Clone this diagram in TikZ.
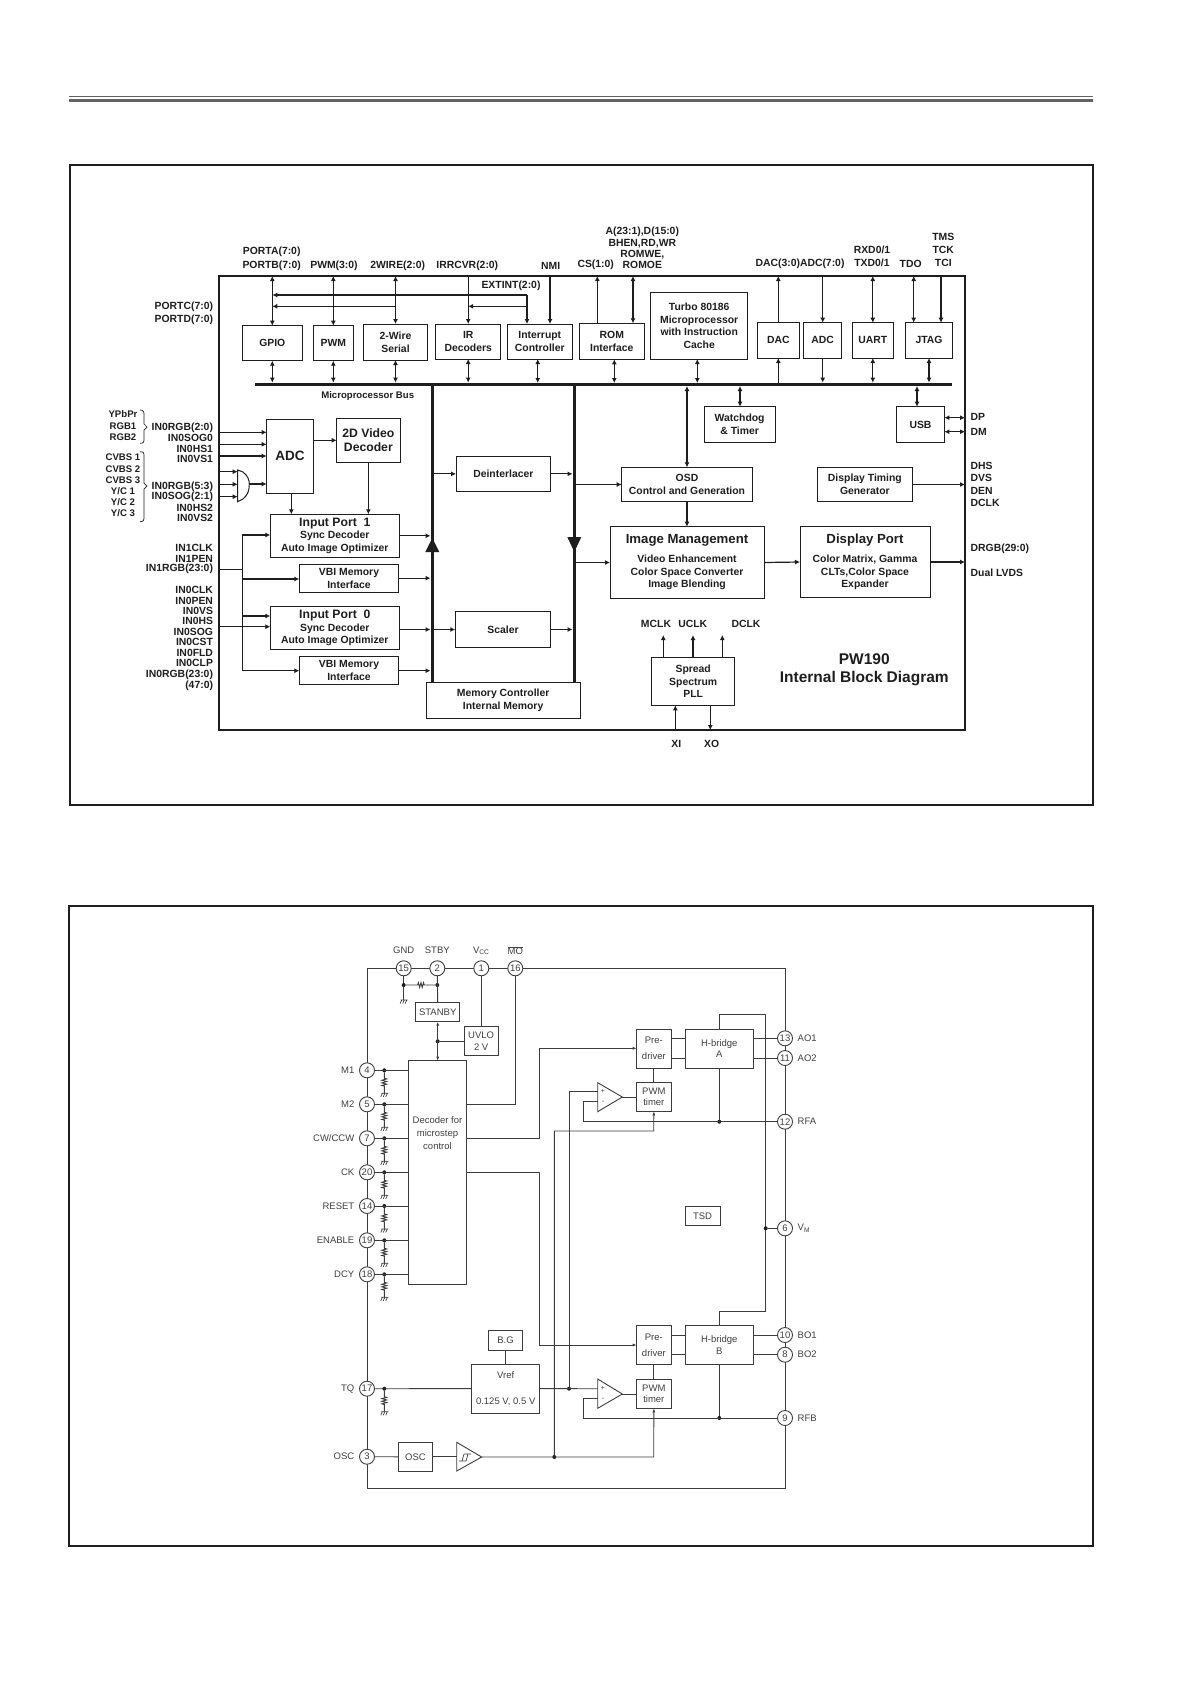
\documentclass[tikz,border=0pt]{standalone}
\usepackage{fontspec}
\setmainfont{Liberation Sans}
\usetikzlibrary{arrows.meta,decorations.pathmorphing}
\definecolor{ink}{HTML}{1E1E1E}
\definecolor{gry}{HTML}{3C3C3C}
\definecolor{txg}{HTML}{404040}
\tikzset{
  tbl/.style={font={\fontsize{10.4}{12.7}\selectfont\bfseries},text=ink,inner sep=0pt,outer sep=0pt},
  lab/.style={tbl},
  blk/.style={draw=ink,line width=1pt,tbl,align=center,outer sep=0pt},
  busbar/.style={fill=ink,draw=none,inner sep=0pt,outer sep=0pt},
  wire/.style={draw=ink,line width=1.2pt},
  arr/.style={wire,-{Latex[length=5pt,width=5pt]}},
  dbl/.style={wire,{Latex[length=5pt,width=5pt]}-{Latex[length=5pt,width=5pt]}},
  tnr/.style={font={\fontsize{9.5}{11.6}\selectfont},text=txg,inner sep=0pt,outer sep=0pt},
  dbox/.style={draw=gry,line width=.9pt,tnr,align=center},
  dw/.style={draw=gry,line width=.9pt},
  darr/.style={dw,-{Latex[length=4pt,width=3pt]}},
  ddbl/.style={dw,{Latex[length=4pt,width=3pt]}-{Latex[length=4pt,width=3pt]}},
  dot/.style={circle,fill=ink,inner sep=0pt,outer sep=0pt,minimum size=4pt},
  pinc/.style={circle,draw=gry,line width=.9pt,fill=white,tnr,minimum size=15pt},
  resist/.style={dw,decorate,decoration={zigzag,amplitude=2.4pt,segment length=2.6pt,pre length=6pt,post length=7pt}},
  resisth/.style={dw,decorate,decoration={zigzag,amplitude=2.4pt,segment length=2.6pt,pre length=12pt,post length=10pt}},
}
\newcommand{\blk}[7][]{\pgfmathsetmacro\bw{#5-#3}\pgfmathsetmacro\bh{#6-#4}%
  \node[blk,#1,minimum width=\bw pt,minimum height=\bh pt] (#2) at ({(#3+#5)/2},{(#4+#6)/2}) {#7};}
\newcommand{\dbk}[7][]{\pgfmathsetmacro\bw{#5-#3}\pgfmathsetmacro\bh{#6-#4}%
  \node[dbox,#1,minimum width=\bw pt,minimum height=\bh pt] (#2) at ({(#3+#5)/2},{(#4+#6)/2}) {#7};}
\newcommand{\gndsym}[1]{\draw[dw,line width=.7pt] ([xshift=-3pt]#1) -- ([xshift=4pt]#1)
  ([xshift=-2pt]#1) -- ++(-1.5,3.5) ([xshift=0.5pt]#1) -- ++(-1.5,3.5) ([xshift=3pt]#1) -- ++(-1.5,3.5);}
\newcommand{\fs}[1]{\fontsize{#1}{#1}\selectfont}
\begin{document}
\begin{tikzpicture}[x=1pt,y=-1pt]
\useasboundingbox (0,0) rectangle (1191,1684);
\fill[white] (0,0) rectangle (1191,1684);
% header rules
\draw[line width=1pt,draw=gry!80] (69,96.3) -- (1093,96.3);
\draw[line width=3pt,draw=gry!80] (69,100.3) -- (1093,100.3);
% frames
\node[draw=ink,line width=1.8pt,minimum width=1023pt,minimum height=640pt,inner sep=0pt] (frameA) at (581.5,485) {};
\node[draw=ink,line width=1.8pt,minimum width=1024pt,minimum height=640pt,inner sep=0pt] (frameB) at (581,1226) {};
% ===================== PW190
\node[draw=ink,line width=1.4pt,minimum width=746pt,minimum height=454pt,inner sep=0pt,outer sep=0pt] (ic) at (592,503) {};
\blk{gpio}{242.3}{325.7}{302.3}{360.7}{GPIO}
\blk{pwm}{313.3}{325.7}{353.3}{360.7}{PWM}
\blk{twow}{363.3}{324}{427.7}{360}{2-Wire\\Serial}
\blk{ir}{435.7}{324}{500.7}{359}{IR\\Decoders}
\blk{intr}{507.3}{324}{572.3}{359}{Interrupt\\Controller}
\blk{rom}{579.3}{323.3}{644.3}{359.3}{ROM\\Interface}
\blk{turbo}{650.7}{292.7}{747.7}{359}{Turbo 80186\\Microprocessor\\with Instruction\\Cache}
\blk{dac}{757.3}{322.7}{799.3}{358}{DAC}
\blk{adc}{803.7}{322.7}{841.7}{358}{ADC}
\blk{uart}{852.3}{322.7}{893.3}{358}{UART}
\blk{jtag}{905.3}{322.7}{952.7}{358}{JTAG}
\node[busbar,minimum width=697.5pt,minimum height=3.4pt] (bus) at (603.7,384.3) {};
\node[tbl,font={\fs{9.6}\bfseries}] (busl) at (367.7,395.7) {Microprocessor Bus};
\blk[font={\fs{13.5}\bfseries}]{adcb}{266.7}{419}{313.3}{493.3}{ADC}
\blk[font={\fontsize{12.2}{14.3}\selectfont\bfseries}]{vdec}{336.7}{418.3}{400}{462.3}{2D Video\\Decoder}
\blk{dei}{456}{456.7}{550.7}{491}{Deinterlacer}
\blk{port1}{270.3}{514.3}{399.3}{557.3}{{\fs{12.2}Input Port\ \ 1}\\Sync Decoder\\Auto Image Optimizer}
\blk{vbi1}{299.3}{564.3}{398.7}{592}{VBI Memory\\Interface}
\blk{port0}{270.3}{606.7}{399.3}{649}{{\fs{12.2}Input Port\ \ 0}\\Sync Decoder\\Auto Image Optimizer}
\blk{vbi0}{299.3}{656.7}{398.7}{684.7}{VBI Memory\\Interface}
\blk{scal}{455.3}{611.7}{550.7}{647.3}{Scaler}
\blk{memc}{426.3}{682.7}{580}{718}{Memory Controller\\Internal Memory}
\node[busbar,minimum width=3.6pt,minimum height=298.7pt] (vbl) at (432.3,533.5) {};
\node[busbar,minimum width=3.6pt,minimum height=298.7pt] (vbr) at (574.3,533.5) {};
\blk{osd}{621.7}{467.3}{752.3}{501.7}{OSD\\Control and Generation}
\blk{dtg}{817.7}{467.3}{912}{501.7}{Display Timing\\Generator}
\blk{wdt}{704}{406.7}{775.3}{442.3}{Watchdog\\\& Timer}
\blk{usb}{896.7}{406.7}{944.3}{442.3}{USB}
\blk{img}{610}{526.7}{764}{598.3}{{\fs{13.2}Image Management}\\[6pt]Video Enhancement\\Color Space Converter\\Image Blending}
\blk{dsp}{800}{526.7}{930}{597.3}{{\fs{13.2}Display Port}\\[6pt]Color Matrix, Gamma\\CLTs,Color Space\\Expander}
\blk{pll}{651.7}{657.3}{734.7}{705.3}{Spread\\Spectrum\\PLL}
% top connectors
\foreach \nm in {gpio,pwm,twow} \draw[dbl] (\nm.north) -- (\nm.north |- ic.north);
\draw[arr] (ir.north |- ic.north) -- (ir.north);
\draw[arr] (550,276) -- (550,324);
\draw[arr] (597.3,323.3) -- (597.3,276);
\draw[dbl] (633,323.3) -- (633,276);
\draw[arr] (dac.north) -- (dac.north |- ic.north);
\draw[arr] (adc.north |- ic.north) -- (adc.north);
\draw[dbl] (uart.north) -- (uart.north |- ic.north);
\draw[dbl] (913.7,322.7) -- (913.7,276);
\draw[arr] (941,276) -- (941,322.7);
% EXTINT
\coordinate (ext) at (527,295);
\coordinate (extb) at (527,306.3);
\coordinate (twoa) at (396,306.3);
\draw[arr] (ext) -- (ext -| gpio.north);
\draw[arr] (twoa) -- (twoa -| gpio.north);
\draw[arr] (extb) -- (extb -| ir.north);
\draw[arr] (ext) -- (ext |- intr.north);
% to microprocessor bus
\foreach \nm in {gpio,pwm,twow,ir,uart,jtag} \draw[dbl] (\nm.south) -- (\nm.south |- bus.north);
\draw[dbl] (537.7,359) -- (537.7,383);
\draw[dbl] (614.3,359.3) -- (614.3,383);
\draw[dbl] (697.3,359) -- (697.3,383);
\draw[arr] (dac.south |- bus.north) -- (dac.south);
\draw[arr] (adc.south) -- (adc.south |- bus.north);
\draw[dbl] (740,386) -- (740,406.7);
\draw[dbl] (osd.north |- bus.south) -- (osd.north);
\draw[dbl] (917,386) -- (917,406.7);
\draw[arr] (osd.south) -- (osd.south |- img.north);
% USB out
\draw[dbl] (usb.east |- 0,417.7) -- (ic.east |- 0,417.7);
\draw[dbl] (usb.east |- 0,431.7) -- (ic.east |- 0,431.7);
\draw[arr] (dtg.east) -- (ic.east |- dtg.east);
\draw[arr] (vbr.east |- osd.west) -- (osd.west);
\draw[arr] (vbr.east |- img.west) -- (img.west);
\draw[arr] (img.east) -- (dsp.west);
\draw[arr] (dsp.east) -- (ic.east |- dsp.east);
% deinterlacer, scaler
\draw[arr] (vbl.east |- dei.west) -- (dei.west);
\draw[arr] (dei.east) -- (vbr.west |- dei.east);
\draw[arr] (vbl.east |- scal.west) -- (scal.west);
\draw[arr] (scal.east) -- (vbr.west |- scal.east);
\draw[arr] (port1.east) -- (vbl.west |- port1.east);
\draw[arr] (vbi1.east) -- (vbl.west |- vbi1.east);
\draw[arr] (port0.east |- scal.west) -- (vbl.west |- scal.west);
\draw[arr] (vbi0.east) -- (vbl.west |- vbi0.east);
% big triangles
\fill[ink] (432.3,538) -- (439.3,552) -- (425.3,552) -- cycle;
\fill[ink] (567.3,537) -- (581.3,537) -- (574.3,552) -- cycle;
% ADC inputs
\foreach \yy in {432.3,444.3,456} \draw[arr] (ic.west |- 0,\yy) -- (adcb.west |- 0,\yy);
% mux
\draw[draw=ink,line width=1pt] (237.7,470) -- (243,472) .. controls (248,476) and (249.3,480) .. (249.3,484) .. controls (249.3,490) and (248,495) .. (243,499) -- (237.7,501.7) -- cycle;
\coordinate (muxo) at (249.3,484);
\draw[arr] (muxo) -- (muxo -| adcb.west);
\foreach \yy in {471.7,484.3,496.7} \draw[arr] (ic.west |- 0,\yy) -- (237.7,\yy);
\draw[arr] (adcb.east |- vdec.west) -- (vdec.west);
\draw[arr] (291.3,493.3) -- (291.3,514.3);
\draw[arr] (vdec.south) -- (vdec.south |- port1.north);
% left inputs for ports
\coordinate (tj) at (242.3,569.3);
\draw[wire] (ic.west |- tj) -- (tj);
\draw[wire] (242.3,535) -- (242.3,670.7);
\draw[arr] (242.3,535) -- (port1.west |- 0,535);
\draw[arr] (242.3,579) -- (vbi1.west |- 0,579);
\draw[arr] (242.3,616) -- (port0.west |- 0,616);
\draw[arr,line width=.8pt] (ic.west |- 0,626.7) -- (port0.west |- 0,626.7);
\draw[arr] (242.3,670.7) -- (vbi0.west |- 0,670.7);
% PLL
\foreach \xx in {663.3,693,722.3} \draw[arr] (\xx,657.3) -- (\xx,635);
\draw[arr] (675.3,730) -- (675.3,705.3);
\draw[arr] (710.3,705.3) -- (710.3,730);
% top labels
\foreach \nm/\xx/\yy/\tx in {la/271.7/252.3/{PORTA(7:0)},lb/271.7/265.7/{PORTB(7:0)},lc/334/265.7/{PWM(3:0)},ld/397.7/265.7/{2WIRE(2:0)},le/467.3/265.7/{IRRCVR(2:0)},lf/550.7/265.7/{NMI},lg/595.7/265/{CS(1:0)},lh/642.3/232.3/{A(23:1),D(15:0)},li/642.3/244/{BHEN,RD,WR},lj/642.3/254.3/{ROMWE,},lk/642.3/265/{ROMOE},ll/800/263.7/{DAC(3:0)ADC(7:0)},lm/872/250/{RXD0/1},ln/872/263/{TXD0/1},lo/910.7/263.7/{TDO},lp/943.3/237.3/{TMS},lq/943.3/250.3/{TCK},lr/943.3/263/{TCI},ls/511/286.3/{EXTINT(2:0)},lt/656/624.3/{MCLK},lu/692.7/624.3/{UCLK},lv/746/624.3/{DCLK},lw/676.3/744/{XI},lx/711.7/744/{XO}}
  \node[lab] (\nm) at (\xx,\yy) {\tx};
% left labels
\foreach \nm/\yy/\tx in {pa/306.7/{PORTC(7:0)},pb/319.7/{PORTD(7:0)},pc/427.7/{IN0RGB(2:0)},pd/438.3/{IN0SOG0},pe/448.7/{IN0HS1},pf/459.3/{IN0VS1},pg/486.7/{IN0RGB(5:3)},ph/497.3/{IN0SOG(2:1)},pi/507.7/{IN0HS2},pj/518.3/{IN0VS2},pk/547.7/{IN1CLK},pl/558.7/{IN1PEN},pm/569.3/{IN1RGB(23:0)},pn/590/{IN0CLK},po/600.7/{IN0PEN},pp/610.7/{IN0VS},pq/621/{IN0HS},pr/632/{IN0SOG},ps/642.3/{IN0CST},pt/653/{IN0FLD},pu/663.3/{IN0CLP},pv/675/{IN0RGB(23:0)},pw/686/{(47:0)}}
  \node[lab,anchor=east] (\nm) at (213,\yy) {\tx};
\foreach \nm/\yy/\tx in {qa/414.3/{YPbPr},qb/425.7/{RGB1},qc/437.3/{RGB2},qd/457.3/{CVBS 1},qe/469/{CVBS 2},qf/480/{CVBS 3},qg/491/{Y/C 1},qh/502/{Y/C 2},qi/513/{Y/C 3}}
  \node[lab,font={\fs{9.6}\bfseries}] (\nm) at (123,\yy) {\tx};
\draw[draw=ink,line width=.7pt] (140,410) .. controls (144,410) and (144,412) .. (144,416) -- (144,424) -- (147,427) -- (144,430) -- (144,438) .. controls (144,442) and (144,443.3) .. (140,443.3);
\draw[draw=ink,line width=.7pt] (140,451.7) .. controls (144,451.7) and (144,453) .. (144,457) -- (144,483) -- (147,486) -- (144,489) -- (144,516) .. controls (144,520) and (144,521.7) .. (140,521.7);
% right labels
\foreach \nm/\yy/\tx in {ra/417.3/{DP},rb/432/{DM},rc/465.7/{DHS},rd/478.3/{DVS},re/491/{DEN},rf/503/{DCLK},rg/549.3/{DRGB(29:0)},rh/573/{Dual LVDS}}
  \node[lab,anchor=west] (\nm) at (970.7,\yy) {\tx};
\node[tbl,font={\fs{15.5}\bfseries}] (tt1) at (864.3,658.7) {PW190};
\node[tbl,font={\fs{15.5}\bfseries}] (tt2) at (864.3,678.3) {Internal Block Diagram};
% ===================== driver
\node[draw=gry,line width=.9pt,minimum width=418pt,minimum height=520pt,inner sep=0pt,outer sep=0pt] (drv) at (576,1228.3) {};
\foreach \n/\xx/\tx in {15/403.7/{GND},2/437.3/{STBY},1/481.3/{V\textsubscript{CC}},16/515.3/{$\overline{\mbox{MO}}$}}{
  \node[pinc] (p\n) at (\xx,968.3) {\n};
  \node[tnr] (lt\n) at (\xx,950.7) {\tx};}
\foreach \n/\yy/\tx in {4/1070.3/M1,5/1104.3/M2,7/1138.3/{CW/CCW},20/1172.3/CK,14/1206/RESET,19/1240.3/ENABLE,18/1274.3/DCY,17/1388.7/TQ,3/1456.7/OSC}{
  \node[pinc] (p\n) at (367,\yy) {\n};
  \node[tnr,anchor=east] (lt\n) at (354.3,\yy) {\tx};}
\foreach \n/\yy/\tx in {13/1038.3/AO1,11/1058/AO2,12/1121.7/RFA,6/1228.3/{V\textsubscript{M}},10/1335/BO1,8/1354.7/BO2,9/1418/RFB}{
  \node[pinc] (p\n) at (785,\yy) {\n};
  \node[tnr,anchor=west] (lt\n) at (797.7,\yy) {\tx};}
\dbk{stby}{415.7}{1002.3}{459.7}{1021.7}{STANBY}
\dbk{uvlo}{464}{1026.7}{498.3}{1055.7}{UVLO\\2 V}
\dbk{dec}{408.3}{1060.7}{466.7}{1284.3}{}
\node[tnr,align=center,font={\fontsize{9.5}{13.3}\selectfont}] (dect) at (437.5,1133) {Decoder for\\microstep\\control};
\dbk[font={\fontsize{9.5}{16}\selectfont}]{preA}{636.7}{1029}{671}{1068}{Pre-\\driver}
\dbk{hbA}{685.3}{1029}{753.3}{1068}{H-bridge\\A}
\dbk{pwmA}{636.7}{1082.3}{671}{1111.3}{PWM\\timer}
\dbk[font={\fontsize{9.5}{16}\selectfont}]{preB}{636.7}{1325.7}{671}{1364.7}{Pre-\\driver}
\dbk{hbB}{685.3}{1325.7}{753.3}{1364.7}{H-bridge\\B}
\dbk{pwmB}{636.7}{1379}{671}{1408.3}{PWM\\timer}
\dbk{tsd}{685}{1206}{720}{1225.7}{TSD}
\dbk[font={\fontsize{9.5}{11.6}\selectfont}]{vref}{471.7}{1364.3}{539.7}{1413}{Vref\\[15pt]0.125 V, 0.5 V}
\dbk{bg}{488.3}{1330.3}{522.7}{1350}{B.G}
\dbk{oscb}{398.3}{1442.3}{432.7}{1471.3}{OSC}
% triangles
\coordinate (oaAo) at (622.3,1097);
\coordinate (oaBo) at (622.3,1394);
\coordinate (sto) at (481.7,1457);
\draw[dw] (597.7,1082.7) -- (oaAo) -- (597.7,1111.7) -- cycle;
\draw[dw] (597.7,1379) -- (oaBo) -- (597.7,1408.3) -- cycle;
\draw[dw] (456.7,1442.3) -- (sto) -- (456.7,1471) -- cycle;
\draw[dw,line width=.7pt] (459,1461) -- (466,1461) (464,1454) -- (471,1454) (462,1461) -- (464,1454) (466,1461) -- (468,1454);
\foreach \nm/\xx/\yy/\tx in {sa/603/1091.5/+,sb/603/1102.5/-,sc/603/1388/+,sd/603/1399/-}
  \node[tnr,font=\fs{7}] (\nm) at (\xx,\yy) {\tx};
% top of driver
\node[dot] (d15) at (403.7,985) {};
\node[dot] (d2) at (437.3,985) {};
\draw[dw] (p15.south) -- (d15);
\draw[dw] (p2.south) -- (stby.north);
\draw[resisth] (d15) -- (d2);
\coordinate (g15) at (403.7,1000);
\draw[dw] (d15) -- (g15);
\gndsym{g15}
\node[dot] (dst) at (437.7,1041.3) {};
\draw[ddbl] (stby.south) -- (stby.south |- dec.north);
\draw[dw] (dst) -- (uvlo.west |- dst);
\draw[dw] (p1.south) -- (uvlo.north -| p1.south);
\draw[dw] (p16.south) |- (dec.east |- 0,1104.3);
% left pins
\foreach \n in {4,5,7,20,14,19,18}{
  \node[dot] (d\n) at (384.3,0 |- p\n) {};
  \draw[dw] (p\n.east) -- (dec.west |- p\n);
  \coordinate (g\n) at ([yshift=-23pt]d\n.center);
  \draw[resist] (d\n) -- (g\n);
  \gndsym{g\n}
}
\node[dot] (d17) at (384.3,1388.7) {};
\draw[dw] (p17.east) -- (vref.west);
\coordinate (g17) at (384.3,1411.7);
\draw[resist] (d17) -- (g17);
\gndsym{g17}
% decoder outputs
\draw[darr] (dec.east |- p7) -- (539.7,1138.3) -- (539.7,1048.3) -- (preA.west |- 0,1048.3);
\draw[darr] (dec.east |- p20) -- (539.7,1172.3) -- (539.7,1345) -- (preB.west |- 0,1345);
% bridges
\foreach \s/\a/\b/\c/\d in {A/1038.3/1058/13/11,B/1335/1354.7/10/8}{
  \draw[dw] (pre\s.east |- 0,\a) -- (hb\s.west |- 0,\a);
  \draw[dw] (pre\s.east |- 0,\b) -- (hb\s.west |- 0,\b);
  \draw[dw] (hb\s.east |- 0,\a) -- (p\c.west);
  \draw[dw] (hb\s.east |- 0,\b) -- (p\d.west);
  \draw[dw] (pre\s.south) -- (pwm\s.north);
}
\draw[dw] (hbA.north) -- (hbA.north |- 0,1014.3) -- (765.7,1014.3) -- (765.7,1311) -- (hbB.north |- 0,1311) -- (hbB.north);
\node[dot] (d6) at (765.7,1228.3) {};
\draw[dw] (d6) -- (p6.west);
\draw[dw] (oaAo) -- (oaAo -| pwmA.west);
\draw[dw] (oaBo) -- (oaBo -| pwmB.west);
% feedback
\node[dot] (dfA) at (719.3,1121.7) {};
\node[dot] (dfB) at (719.3,1418) {};
\draw[dw] (hbA.south) -- (dfA);
\draw[dw] (hbB.south) -- (dfB);
\draw[dw] (p12.west) -- (583.3,1121.7) -- (583.3,1101.7) -- (597.7,1101.7);
\draw[dw] (p9.west) -- (583.3,1418) -- (583.3,1398.3) -- (597.7,1398.3);
% vref to amps
\node[dot] (dvr) at (569,1388.7) {};
\draw[dw] (vref.east) -- (597.7,1388.7);
\draw[dw] (dvr) -- (569,1091.7) -- (597.7,1091.7);
\draw[dw] (bg.south) -- (vref.north -| bg.south);
% osc
\node[dot] (dos) at (554.3,1457) {};
\draw[dw] (p3.east) -- (oscb.west);
\draw[dw] (oscb.east) -- (456.7,1456.8);
\draw[darr] (sto) -- (653.7,1457) -- (pwmB.south);
\draw[darr] (dos) -- (554.3,1131) -- (653.7,1131) -- (pwmA.south);
\end{tikzpicture}
\end{document}
